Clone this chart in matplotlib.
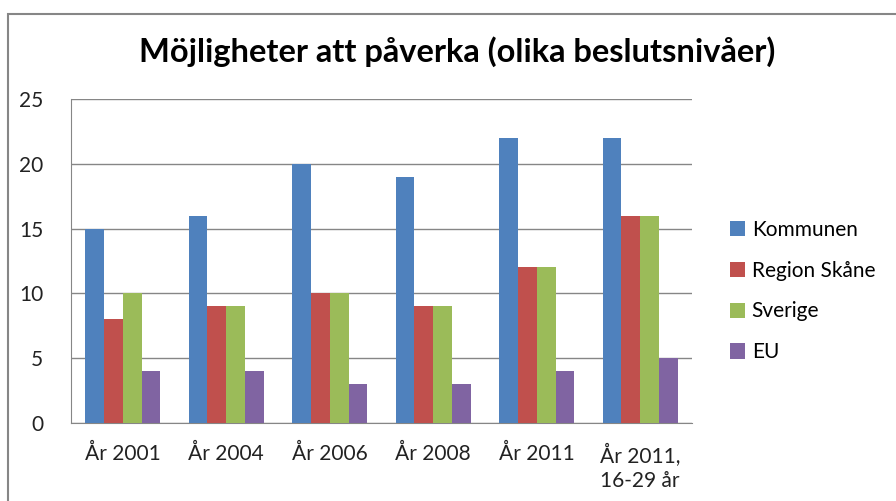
import numpy as np
import matplotlib.pyplot as plt
from matplotlib.patches import Rectangle

plt.rcParams['font.family'] = ['Lato', 'DejaVu Sans']

# Data
categories = ['År 2001', 'År 2004', 'År 2006', 'År 2008', 'År 2011', 'År 2011,\n16-29 år']
series_names = ['Kommunen', 'Region Skåne', 'Sverige', 'EU']
kommunen = [15, 16, 20, 19, 22, 22]
region_skane = [8, 9, 10, 9, 12, 16]
sverige = [10, 9, 10, 9, 12, 16]
eu = [4, 4, 3, 3, 4, 5]
colors = ['#4F81BD', '#C0504D', '#9BBB59', '#8064A2']

fig = plt.figure(figsize=(8.96, 5.01), dpi=100)
# outer chart frame
fig.patches.append(Rectangle((8 / 896, -0.05), 1.2, 1 - 14 / 501 + 0.05,
                             transform=fig.transFigure, fill=False,
                             edgecolor='#868686', linewidth=1.5))

ax = fig.add_axes([71 / 896, 1 - 423 / 501, (692 - 71) / 896, (423 - 99) / 501])

x = np.arange(len(categories))
w = 1 / 5.5
for i, (vals, name) in enumerate(zip([kommunen, region_skane, sverige, eu], series_names)):
    ax.bar(x + (i - 1.5) * w, vals, w, color=colors[i], label=name, zorder=3)

ax.set_xlim(-0.5, len(categories) - 0.5)
ax.set_ylim(0, 25)
ax.set_yticks(range(0, 26, 5))
ax.yaxis.grid(True, color='#868686', linewidth=1, zorder=0)
for s in ['top', 'right']:
    ax.spines[s].set_visible(False)
ax.spines['left'].set_color('#868686')
ax.spines['bottom'].set_color('#868686')
ax.tick_params(axis='both', length=0, labelsize=15, colors='#222222')
ax.tick_params(axis='y', pad=20)
ax.tick_params(axis='x', pad=15)
ax.set_xticks(x)
ax.set_xticklabels(categories, linespacing=1.25)

fig.text(457 / 896, 1 - 52 / 501, 'Möjligheter att påverka (olika beslutsnivåer)',
         ha='center', va='center', fontsize=23.5, fontweight='bold')

ax.legend(loc='center left', bbox_to_anchor=(711 / 896, 1 - 291 / 501),
          bbox_transform=fig.transFigure, frameon=False, fontsize=15,
          handlelength=0.75, handleheight=0.75, handletextpad=0.3, labelspacing=1.0)

fig.savefig('out.png', dpi=100)
